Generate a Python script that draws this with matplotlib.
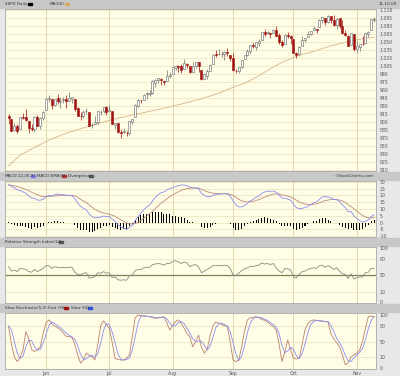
import numpy as np
import pandas as pd
import matplotlib
matplotlib.use('Agg')
import matplotlib.pyplot as plt
from matplotlib.patches import Rectangle

################# 1 data ################################
# trading days 2009-05-12 .. 2009-11-10 (NYSE holidays removed)
days = pd.bdate_range('2009-05-12', '2009-11-10')
days = days.drop(pd.to_datetime(['2009-05-25', '2009-07-03', '2009-09-07']))

opens = [910.5, 905.4, 884.2, 892.8, 886.1, 909.7, 908.6, 901.0, 888.7, 887.0, 909.9, 892.9, 907.0,
         923.3, 942.9, 942.5, 932.5, 945.7, 938.1, 940.4, 942.7, 939.0, 943.4, 942.5, 925.6, 911.9, 910.9, 919.7, 918.1, 893.5, 896.3, 899.5, 918.8, 919.9, 927.2,
         920.8, 921.2, 894.3, 898.6, 881.9, 881.3, 880.0, 879.6, 900.8, 910.2, 930.2, 940.6, 942.1, 952.0, 953.4, 954.1, 972.2, 978.6, 981.5, 977.7, 976.0, 986.8,
         990.2, 1001.4, 1005.4, 1004.1, 999.8, 1008.9, 1005.8, 994.0, 1005.9, 1012.2, 998.2, 980.6, 986.9, 996.4, 1009.1, 1026.6, 1026.6, 1027.4, 1027.8, 1031.6, 1025.2,
         1019.5, 996.1, 996.1, 1003.8, 1018.7, 1025.4, 1033.0, 1043.9, 1040.2, 1049.0, 1054.0, 1068.1, 1066.6, 1067.1, 1066.4, 1072.7, 1062.6, 1049.5, 1045.4, 1063.7, 1061.0,
         1054.9, 1029.7, 1026.9, 1042.0, 1053.7, 1060.0, 1065.3, 1071.6, 1075.0, 1078.7, 1090.4, 1094.7, 1088.2, 1098.6, 1090.4, 1081.0, 1095.6, 1080.4, 1067.5, 1061.5, 1043.7, 1065.4,
         1036.2, 1040.9, 1047.1, 1047.3, 1065.0, 1072.3, 1092.2]
highs = [915.6, 905.4, 898.4, 896.9, 910.0, 916.4, 924.6, 901.0, 896.7, 911.8, 913.8, 909.5, 920.0,
         947.8, 950.0, 942.5, 942.5, 951.7, 946.3, 946.9, 949.8, 956.2, 946.3, 942.5, 928.0, 918.4, 921.9, 927.1, 918.1, 898.7, 910.9, 921.4, 922.0, 927.4, 930.0,
         931.9, 921.2, 898.7, 898.6, 886.8, 887.9, 883.6, 901.1, 905.8, 933.0, 943.9, 941.9, 951.6, 956.5, 959.8, 979.4, 979.8, 982.5, 982.4, 977.8, 996.7, 993.2,
         1003.6, 1007.1, 1006.6, 1008.0, 1018.0, 1010.1, 1005.8, 1012.8, 1013.1, 1012.6, 998.2, 991.2, 999.6, 1008.9, 1027.6, 1035.8, 1037.8, 1032.5, 1033.3, 1039.5, 1025.2,
         1028.5, 1000.3, 1003.4, 1016.5, 1026.1, 1036.3, 1044.1, 1048.2, 1049.7, 1056.0, 1068.8, 1074.8, 1071.5, 1067.3, 1073.8, 1080.2, 1066.3, 1053.5, 1065.1, 1069.6, 1063.4,
         1054.9, 1030.6, 1042.6, 1060.6, 1058.0, 1070.7, 1071.5, 1079.5, 1075.3, 1093.2, 1096.6, 1094.7, 1100.2, 1098.6, 1101.4, 1095.2, 1095.8, 1091.8, 1072.5, 1063.3, 1066.8, 1065.4,
         1052.2, 1046.4, 1061.0, 1066.7, 1071.5, 1093.2, 1096.1]
lows = [896.5, 882.5, 882.5, 878.9, 886.1, 905.2, 901.4, 879.6, 883.8, 881.5, 891.9, 887.6, 903.6,
        923.3, 938.1, 923.9, 929.3, 934.1, 926.4, 936.2, 927.0, 939.0, 935.7, 919.7, 911.6, 903.8, 907.9, 915.8, 893.0, 888.9, 896.3, 896.3, 913.0, 916.2, 912.9,
        920.8, 896.4, 886.4, 879.9, 869.3, 878.5, 872.8, 875.3, 896.5, 910.2, 927.5, 934.9, 940.9, 943.2, 947.9, 953.3, 965.9, 972.3, 969.4, 968.7, 976.0, 982.9,
        990.2, 996.7, 994.3, 992.5, 999.8, 1001.0, 992.4, 993.4, 1000.8, 994.6, 978.5, 980.6, 980.6, 996.4, 1009.1, 1022.5, 1026.2, 1021.6, 1016.2, 1023.1, 1014.6,
        996.3, 992.0, 992.3, 1001.7, 1018.7, 1024.0, 1028.0, 1038.4, 1035.0, 1043.4, 1052.9, 1061.2, 1064.3, 1057.5, 1066.4, 1060.4, 1045.9, 1041.2, 1045.4, 1057.8, 1046.5,
        1029.4, 1020.0, 1025.9, 1042.0, 1050.1, 1060.0, 1063.0, 1071.6, 1066.7, 1078.7, 1086.4, 1081.5, 1086.5, 1086.2, 1080.8, 1074.3, 1075.5, 1065.2, 1060.6, 1042.2, 1043.7, 1033.4,
        1029.4, 1033.9, 1045.2, 1047.3, 1059.3, 1072.3, 1087.4]
closes = [908.4, 883.9, 893.1, 882.9, 909.7, 908.1, 903.5, 888.3, 887.0, 910.3, 893.1, 906.8, 919.1,
          942.9, 944.7, 931.8, 942.5, 940.1, 939.1, 942.4, 939.2, 944.9, 946.2, 923.7, 912.0, 910.7, 918.4, 921.2, 893.0, 895.1, 900.9, 920.3, 918.9, 927.2, 919.3,
          923.3, 896.4, 898.7, 881.0, 879.6, 882.7, 879.1, 901.1, 905.8, 932.7, 940.7, 940.4, 951.1, 954.6, 954.1, 976.3, 979.3, 982.2, 979.6, 975.2, 986.8, 987.5,
          1002.6, 1005.7, 1002.7, 997.1, 1010.5, 1007.1, 994.4, 1005.8, 1012.7, 1004.1, 979.7, 989.7, 996.5, 1007.4, 1026.1, 1025.6, 1028.0, 1028.1, 1031.0, 1028.9, 1020.6,
          998.0, 994.8, 1003.2, 1016.4, 1025.4, 1033.4, 1044.1, 1042.7, 1049.3, 1052.6, 1068.8, 1065.5, 1068.3, 1064.7, 1071.7, 1060.9, 1050.8, 1044.4, 1063.0, 1060.6, 1057.1,
          1029.9, 1025.2, 1040.5, 1054.7, 1057.6, 1065.5, 1071.5, 1076.2, 1073.2, 1092.0, 1096.6, 1087.7, 1097.9, 1091.1, 1081.4, 1092.9, 1079.6, 1067.0, 1063.4, 1042.6, 1066.1, 1036.2,
          1042.9, 1045.4, 1046.5, 1066.6, 1069.3, 1093.1, 1093.0]

# 50-day moving average, read at a few days
ma_day = [0, 4, 9, 14, 20, 26, 31, 37, 43, 49, 55, 61, 66, 72, 78, 83, 87, 91, 95, 101, 107, 112, 118, 123, 127]
ma_val = [818, 838, 852, 866, 879, 889, 897, 906, 913, 920, 927, 935, 942, 952, 965, 975, 987, 1000, 1012, 1025, 1034, 1043, 1051, 1056, 1059]

macd = [28, 26.5, 25.5, 24, 23.5, 22.5, 21.5, 19.5, 18, 18, 16.5, 16.5, 17,
        19, 20, 19.5, 20.5, 21, 20.5, 20.5, 20, 20, 19.8, 17.5, 14.5, 12, 10.5, 9.5, 6.5, 4.5, 3.5, 4, 4, 4.8, 4.5,
        4.5, 2.5, 1, -1.5, -3, -4, -5, -3.5, -2, 1.5, 4.5, 7, 9.5, 11.5, 13, 16, 18.5, 20.5, 22, 22.5, 24, 25,
        25.5, 26.5, 27, 27.6, 27.5, 27.2, 26, 25.5, 25.5, 25, 21.5, 20, 19, 19, 20, 20.5, 21, 21, 21.2, 21, 19.5,
        16, 13, 11.5, 11.5, 12.5, 14, 16, 17, 18.5, 19.5, 21.5, 22.5, 23, 23, 23.2, 22.2, 20.3, 18, 17.8, 17.2, 16.5,
        13.5, 11, 10.2, 10.5, 11, 12, 13.2, 14.5, 15.2, 17, 18.8, 19.2, 18.8, 18.2, 17, 16.8, 15.2, 13, 11, 8, 8.2, 5,
        3, 1.5, 0.3, 1, 2, 4.5, 5.8]
signal = [27.5, 27.4, 27.0, 26.4, 25.8, 25.1, 24.4, 23.4, 22.3, 21.4, 20.4, 19.6, 19.1,
          19.1, 19.3, 19.3, 19.5, 19.8, 20, 20, 20, 20, 20, 19.5, 18.5, 17.2, 15.9, 14.6, 13, 11.3, 9.7, 8.6, 7.7, 7.1, 6.6,
          6.2, 5.5, 4.6, 3.4, 2.1, 0.9, -0.3, -0.9, -1.1, -0.6, 0.4, 1.7, 3.3, 4.9, 6.5, 8.4, 10.4, 12.4, 14.3, 15.9, 17.5, 19,
          20.3, 21.5, 22.6, 23.6, 24.4, 25, 25.2, 25.3, 25.4, 25.3, 24.5, 23.6, 22.7, 22, 21.6, 21.4, 21.3, 21.2, 21.2, 21.2, 20.8,
          19.9, 18.5, 17.1, 16, 15.3, 15.1, 15.3, 15.6, 16.2, 16.9, 17.8, 18.7, 19.6, 20.3, 20.9, 21.2, 21, 20.4, 19.9, 19.4, 18.8,
          17.8, 16.5, 15.2, 14.3, 13.6, 13.3, 13.3, 13.5, 13.8, 14.4, 15.3, 16.1, 16.6, 16.9, 16.9, 16.9, 16.6, 15.9, 14.9, 13, 11.8, 10.2,
          8.5, 6.8, 5.2, 4.2, 3.6, 3.5, 3.8]
divergence = [0.5, -0.9, -1.5, -2.4, -2.3, -2.6, -2.9, -3.9, -4.3, -3.4, -3.9, -3.1, -2.1,
              -0.1, 0.7, 0.2, 1.0, 1.2, 0.5, 0.5, 0, 0, -0.2, -2, -4, -5.2, -5.4, -5.1, -6.5, -6.8, -6.2, -4.6, -3.7, -2.3, -2.1,
              -1.7, -3, -3.6, -4.9, -5.1, -4.9, -4.7, -2.6, -0.9, 2.1, 4.1, 5.3, 6.2, 6.6, 6.5, 7.6, 8.1, 8.1, 7.7, 6.6, 6.5, 6,
              5.2, 5, 4.4, 4, 3.1, 2.2, 0.8, 0.2, 0.1, -0.3, -3, -3.6, -3.7, -3, -1.6, -0.9, -0.3, -0.2, 0, -0.2, -1.3,
              -3.9, -5.5, -5.6, -4.5, -2.8, -1.1, 0.7, 1.4, 2.3, 2.6, 3.7, 3.8, 3.4, 2.7, 2.3, 1, -0.7, -2.4, -2.1, -2.2, -2.3,
              -4.3, -5.5, -5, -3.8, -2.6, -1.3, -0.1, 1, 1.4, 2.6, 3.5, 3.1, 2.2, 1.3, 0.1, -0.1, -1.4, -2.9, -3.9, -5, -3.6, -5.2,
              -5.5, -5.3, -4.9, -3.2, -1.6, 1, 2]

rsi = [66, 58, 60, 57, 63, 62, 61, 57, 56, 61, 57, 60, 63,
       68, 68, 63, 66, 65, 64, 65, 64, 65, 65, 56, 52, 51, 54, 55, 45, 46, 48, 55, 54, 57, 54,
       55, 46, 47, 42, 41, 42, 41, 49, 51, 59, 61, 61, 64, 65, 65, 70, 71, 72, 71, 69, 72, 72,
       76, 77, 75, 72, 75, 73, 66, 69, 70, 66, 55, 58, 61, 64, 68, 68, 68, 68, 69, 68, 63,
       51, 50, 54, 59, 62, 64, 67, 66, 68, 69, 73, 71, 72, 70, 72, 64, 58, 55, 63, 62, 60,
       47, 45, 52, 57, 58, 61, 63, 64, 63, 68, 69, 65, 68, 65, 61, 64, 58, 53, 52, 44, 53, 43,
       46, 47, 47, 55, 56, 63, 63]

stoch_k = [78, 45, 21, 12, 20, 34, 69, 55, 35, 31, 35, 40, 65,
           85, 91, 84, 79, 76, 72, 66, 60, 59, 58, 45, 25, 9, 15, 28, 24, 21, 15, 45, 80, 89, 82,
           75, 48, 18, 16, 15, 15, 18, 25, 60, 95, 100, 99, 98, 98, 97, 95, 94, 95, 96, 97, 85, 72,
           80, 88, 91, 85, 75, 65, 59, 40, 50, 62, 40, 28, 35, 60, 80, 87, 85, 82, 80, 78, 50,
           15, 12, 15, 40, 70, 91, 95, 96, 97, 95, 92, 90, 87, 82, 78, 72, 45, 12, 30, 53, 35,
           18, 17, 18, 45, 72, 84, 89, 91, 90, 89, 88, 88, 87, 65, 55, 48, 40, 25, 6, 10, 21, 25,
           28, 34, 50, 75, 97, 98, 97]
stoch_d = [80, 72, 50, 28, 18, 22, 40, 52, 52, 40, 34, 35, 47,
           63, 80, 87, 84, 80, 76, 71, 66, 62, 59, 54, 43, 26, 16, 17, 22, 24, 20, 27, 47, 71, 84,
           82, 68, 47, 27, 16, 15, 16, 19, 34, 60, 85, 98, 99, 98, 97, 97, 95, 95, 95, 96, 93, 85,
           79, 80, 86, 88, 84, 75, 66, 55, 50, 51, 51, 43, 34, 41, 58, 76, 84, 85, 82, 80, 69,
           48, 26, 14, 22, 42, 67, 85, 94, 96, 96, 95, 92, 90, 86, 82, 77, 65, 43, 29, 32, 39,
           35, 23, 18, 27, 45, 67, 82, 88, 90, 90, 89, 88, 88, 80, 69, 56, 48, 38, 24, 14, 12, 19,
           25, 29, 37, 53, 74, 90, 97]

month_names = ['Jun', 'Jul', 'Aug', 'Sep', 'Oct', 'Nov']

for series in (opens, highs, lows, closes, macd, signal, divergence, rsi, stoch_k, stoch_d):
    assert len(series) == len(days), len(series)

x = np.arange(len(days))
o, h, l, c = map(np.array, (opens, highs, lows, closes))
month_idx = [int(np.argmax(days.month == m)) for m in range(6, 12)]

################# 2 canvas #############################
H = 376.0
fig = plt.figure(figsize=(4, 3.76), dpi=100, facecolor='#e8e8e8')

def panel(top, bottom):
    return fig.add_axes([5 / 400, 1 - bottom / H, 370.5 / 400, (bottom - top) / H])

def style(ax, ylim, ticks, labels, grid):
    ax.set_facecolor('#fffde6')
    ax.set_xlim(-1.25, 127.5)
    ax.set_ylim(*ylim)
    ax.yaxis.tick_right()
    ax.set_yticks(ticks)
    ax.set_yticklabels(labels)
    ax.tick_params(axis='y', length=0, pad=3, labelsize=3.3, labelcolor='#555555')
    ax.tick_params(axis='x', length=0, labelbottom=False)
    ax.set_xticks(month_idx)
    for g in grid:
        ax.axhline(g, color='#ebe6c2', lw=0.6, zorder=0)
    for m in month_idx:
        ax.axvline(m, color='#dcd7ae', lw=0.7, zorder=0)
    for s in ax.spines.values():
        s.set_color('#a8a8a8')
        s.set_linewidth(0.6)

def bar(top, bottom):
    fig.patches.append(Rectangle((0, 1 - bottom / H), 1, (bottom - top) / H,
                                 transform=fig.transFigure, color='#c8c8c8', zorder=-1))

def label(px, py, s, color='#333333', ha='left'):
    fig.text(px / 400, 1 - py / H, s, fontsize=3.0, color=color, ha=ha, va='center')

def swatch(px, py, color):
    fig.patches.append(Rectangle((px / 400, 1 - (py + 1) / H), 4 / 400, 2 / H,
                                 transform=fig.transFigure, color=color))

################# 3 price panel ########################
ax1 = panel(9, 171)
price_ticks = list(range(810, 1111, 15))
style(ax1, (808.1, 1111.9), price_ticks, [f'{v:,}' for v in price_ticks], price_ticks)

up = c >= o
ax1.vlines(x, l, h, color=np.where(up, '#707070', '#a01010'), lw=0.5, zorder=2)
ax1.bar(x[up], (c - o)[up], bottom=o[up], width=0.7, facecolor='white',
        edgecolor='#606060', lw=0.4, zorder=3)
ax1.bar(x[~up], (o - c)[~up], bottom=c[~up], width=0.7, facecolor='#a01010',
        edgecolor='#a01010', lw=0.4, zorder=3)
ax1.plot(ma_day, ma_val, color='#d9b48a', lw=0.6, zorder=1)

################# 4 MACD ##############################
ax2 = panel(181, 237)
macd_ticks = list(range(-10, 31, 5))
style(ax2, (-10.5, 30.5), macd_ticks, [str(v) for v in macd_ticks], macd_ticks)
ax2.bar(x, divergence, width=0.35, color='black', zorder=2)
ax2.plot(x, signal, color='#b98a7c', lw=0.6, zorder=3)
ax2.plot(x, macd, color='#8a8cf0', lw=0.6, zorder=4)

################# 5 RSI ###############################
ax3 = panel(247, 303)
style(ax3, (-1, 102.5), [0, 20, 50, 80, 100], ['0', '20', '50', '80', '100'], [20, 80])
ax3.axhline(50, color='#7f7f58', lw=0.9, zorder=1)
ax3.plot(x, rsi, color='#8a8a80', lw=0.6, zorder=2)

################# 6 Stochastics #######################
ax4 = panel(313, 369)
style(ax4, (-2, 104), [0, 20, 50, 80, 100], ['0', '20', '50', '80', '100'], [20, 50, 80])
ax4.plot(x, stoch_k, color='#b88070', lw=0.6, zorder=2)
ax4.plot(x, stoch_d, color='#8a8cf0', lw=0.6, zorder=3)
ax4.tick_params(axis='x', labelbottom=True, labelsize=3.3, labelcolor='#555555', pad=1.5)
ax4.set_xticklabels(month_names)

################# 7 label bars ########################
bar(0, 8)
label(5, 4, r'\$SPX Daily')
swatch(28, 4, 'black')
label(50, 4, 'MA(50)')
swatch(65, 4, '#d9a860')
label(397, 4, '11-10-09', ha='right')

bar(172, 180)
label(5, 176, 'MACD(12,26,9)')
swatch(31, 176, '#7c7ef0')
label(37, 176, 'MACD EMA(9)')
swatch(62, 176, '#b03030')
label(68, 176, 'Divergence')
swatch(89, 176, '#555555')
label(374, 176, '©StockCharts.com', ha='right')

bar(238, 246)
label(5, 242, 'Relative Strength Index(14)')
swatch(59, 242, '#555555')

bar(304, 312)
label(5, 308, 'Slow Stochastic(5,3) Fast %K')
swatch(64, 308, '#a01010')
label(71, 308, 'Slow %D')
swatch(88, 308, '#3050e0')

plt.savefig('out.png', dpi=100, facecolor=fig.get_facecolor())
